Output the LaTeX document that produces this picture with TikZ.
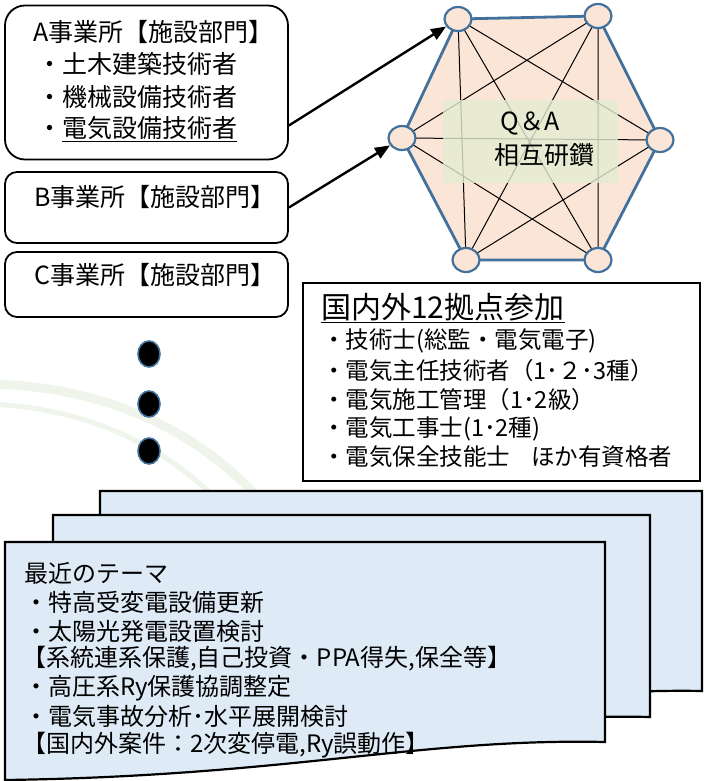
\documentclass[tikz,border=0pt]{standalone}
\usepackage{fontspec}
\setmainfont{Noto Sans CJK JP}
\usetikzlibrary{arrows.meta,shapes.geometric}
\definecolor{hexblue}{HTML}{41719C}
\definecolor{peach}{HTML}{FBE5D6}
\definecolor{pageblue}{HTML}{DEEBF7}
\definecolor{qagreen}{HTML}{E4ECD2}
\definecolor{bggreen}{HTML}{D3E5C3}
\begin{document}
\begin{tikzpicture}[x=1pt,y=-1pt,
  rbox/.style={draw=black,line width=1.8pt,fill=white,inner sep=0pt},
  t25/.style={anchor=west,inner sep=0pt,font=\fontsize{25}{30}\selectfont},
  t24/.style={anchor=west,inner sep=0pt,font=\fontsize{24}{28}\selectfont},
  tq/.style={anchor=west,inner sep=0pt,font=\fontsize{23.5}{28}\selectfont},
  t29/.style={anchor=west,inner sep=0pt,font=\fontsize{30}{34}\selectfont},
  vtx/.style={ellipse,draw=hexblue,line width=2.2pt,fill=peach,minimum width=27pt,minimum height=24pt,inner sep=0pt},
  blackdot/.style={ellipse,draw=hexblue,line width=1.6pt,fill=black,minimum width=22pt,minimum height=26pt,inner sep=0pt},
  arr/.style={line width=2.4pt,-{Triangle[length=15pt,width=12pt]}},
  diag/.style={line width=1pt,black},
  page/.style={draw=black,line width=2.2pt,fill=pageblue,line join=miter},
  bgarc/.style={bggreen,opacity=0.35}
]
\useasboundingbox (0,0) rectangle (708,781);
\fill[white] (0,0) rectangle (708,781);

% faint background arcs
\draw[bgarc,line width=9pt] (-10,384) .. controls (90,386) and (190,420) .. (265,505);
\draw[bgarc,line width=5pt] (-10,404) .. controls (80,408) and (160,440) .. (222,505);

% office boxes
\node[rbox,rounded corners=20pt,minimum width=283pt,minimum height=154pt] (A) at (146.5,82.5) {};
\node[rbox,rounded corners=12pt,minimum width=283pt,minimum height=71pt] (B) at (146.5,207.5) {};
\node[rbox,rounded corners=12pt,minimum width=283pt,minimum height=65pt] (C) at (146.5,284.5) {};

\node[t25] (a1) at (33,32) {A事業所【施設部門】};
\node[t25] (a2) at (37,64) {・土木建築技術者};
\node[t25] (a3) at (37,97) {・機械設備技術者};
\node[t25] (a4) at (37,129) {・\underline{電気設備技術者}};
\node[t25] (b1) at (34,197) {B事業所【施設部門】};
\node[t25] (c1) at (34,275) {C事業所【施設部門】};

% dots
\node[blackdot] (d1) at (149,354) {};
\node[blackdot] (d2) at (149,404) {};
\node[blackdot] (d3) at (149,451) {};

% hexagon
\coordinate (pTL) at (458,19);
\coordinate (pTR) at (598,16);
\coordinate (pR) at (660,140);
\coordinate (pBR) at (598,260);
\coordinate (pBL) at (466,260);
\coordinate (pL) at (402,138);
\draw[hexblue,line width=2.8pt,fill=peach,line join=round] (pTL) -- (pTR) -- (pR) -- (pBR) -- (pBL) -- (pL) -- cycle;
\draw[diag] (pTL) -- (pBL) (pTL) -- (pBR) (pTL) -- (pR)
            (pTR) -- (pL) (pTR) -- (pBL) (pTR) -- (pBR)
            (pL) -- (pR) (pL) -- (pBR) (pR) -- (pBL);
\fill[qagreen,opacity=0.8] (443,100) rectangle (618,183);
\node[vtx] (TL) at (pTL) {};
\node[vtx] (TR) at (pTR) {};
\node[vtx] (R) at (pR) {};
\node[vtx] (BR) at (pBR) {};
\node[vtx] (BL) at (pBL) {};
\node[vtx] (L) at (pL) {};
\node[inner sep=0pt,font=\fontsize{25}{30}\selectfont] (qa1) at (530,123) {Q＆A};
\node[inner sep=0pt,font=\fontsize{25}{30}\selectfont] (qa2) at (544,155) {相互研鑽};

% arrows
\draw[arr] ([yshift=-43pt]A.east) -- (TL);
\draw[arr] (B.east) -- (L);

% qualification box
\node[draw=black,line width=1.5pt,fill=white,minimum width=397pt,minimum height=198pt,inner sep=0pt] (Q) at (501.5,382) {};
\node[t29] (q0) at (321,308) {\underline{国内外12拠点参加}};
\node[tq] (q1) at (322,341) {・技術士(総監・電気電子)};
\node[tq] (q2) at (322,371) {・電気主任技術者（1･２･3種）};
\node[tq] (q3) at (322,400) {・電気施工管理（1･2級）};
\node[tq] (q4) at (322,429) {・電気工事士(1･2種)};
\node[tq] (q5) at (322,457) {・電気保全技能士\hspace{0.9em}ほか有資格者};

% pages
\draw[page] (100,491) -- (702,491) -- (702,691) .. controls (550,688) and (400,720) .. (100,725) -- cycle;
\draw[page] (53,515) -- (650,515) -- (650,717) .. controls (470,713) and (350,750) .. (53,755) -- cycle;
\draw[page] (5,542) -- (605,542) -- (605,742) .. controls (420,738) and (290,776) .. (5,780) -- cycle;

\node[t24] (p0) at (24,573) {最近のテーマ};
\node[t24] (p1) at (24,602) {・特高受変電設備更新};
\node[t24] (p2) at (24,631) {・太陽光発電設置検討};
\node[t24] (p3) at (22,659) {【系統連系保護,自己投資・PPA得失,保全等】};
\node[t24] (p4) at (24,688) {・高圧系Ry保護協調整定};
\node[t24] (p5) at (24,716) {・電気事故分析･水平展開検討};
\node[t24] (p6) at (22,745) {【国内外案件：2次変停電,Ry誤動作】};
\end{tikzpicture}
\end{document}
